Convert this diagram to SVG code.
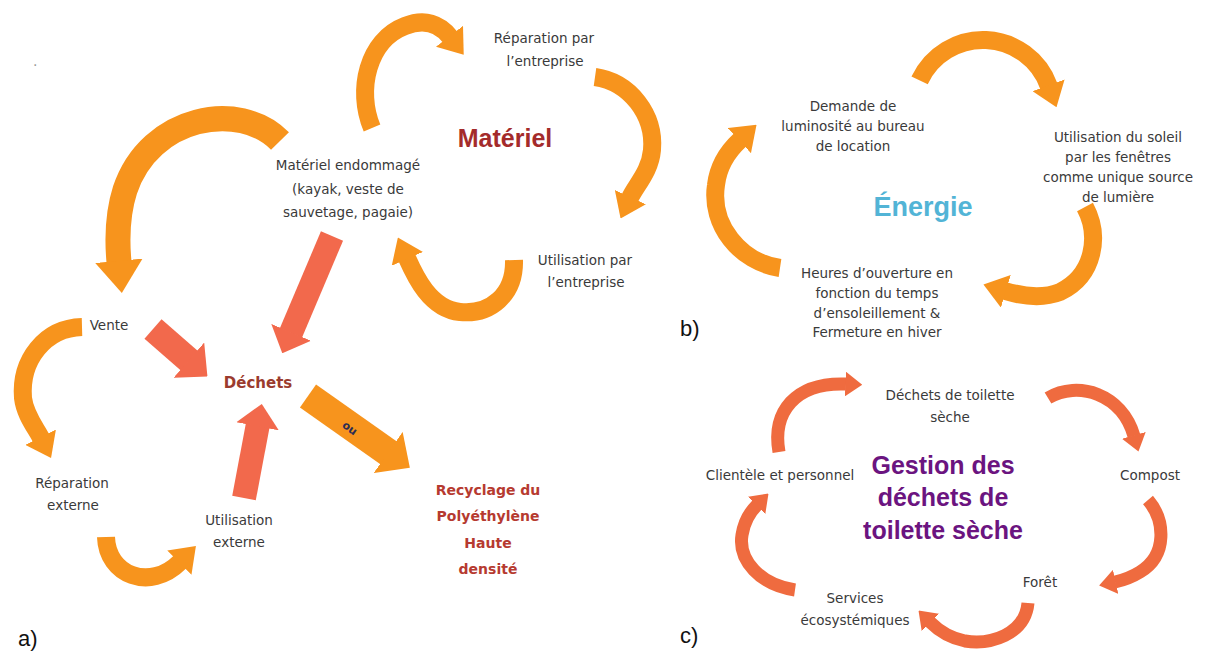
<svg xmlns="http://www.w3.org/2000/svg" width="1214" height="652" viewBox="0 0 1214 652">
<style>
.t{font-family:"DejaVu Sans","Liberation Sans",sans-serif;font-size:13.5px;fill:#3a3a3a;text-anchor:middle}
.lbl{font-family:"Liberation Sans",Arial,sans-serif;font-size:22px;fill:#111}
.ttl{font-family:"Liberation Sans",Arial,sans-serif;font-weight:bold;text-anchor:middle}
.ao{fill:none;stroke:#F7941D;stroke-width:18}
.aob{fill:none;stroke:#F7941D;stroke-width:25}
.ac{fill:none;stroke:#EF6B3F;stroke-width:13}
.sr{stroke:#F2694C}
.so{stroke:#F7941D}
</style>
<defs>
<marker id="hO" viewBox="0 0 13 19" refX="0.5" refY="9.5" markerWidth="1.3" markerHeight="1.9" orient="auto"><path d="M0,0L13,9.5L0,19z" fill="#F7941D"/></marker>
<marker id="hC" viewBox="0 0 13 19" refX="0.5" refY="9.5" markerWidth="1.3" markerHeight="1.9" orient="auto"><path d="M0,0L13,9.5L0,19z" fill="#EF6B3F"/></marker>
<marker id="sR" viewBox="0 0 9.5 18" refX="0.3" refY="9" markerWidth="0.95" markerHeight="1.8" orient="auto"><path d="M0,0L9.5,9L0,18z" fill="#F2694C"/></marker>
<marker id="sO" viewBox="0 0 9.5 18" refX="0.3" refY="9" markerWidth="0.95" markerHeight="1.8" orient="auto"><path d="M0,0L9.5,9L0,18z" fill="#F7941D"/></marker>
</defs>
<rect width="1214" height="652" fill="#ffffff"/>

<g id="connectors">
  <!-- panel a curved -->
  <path class="ao" d="M372,128 C356,90 368,40 405,26 C425,18 440,24 450,37" marker-end="url(#hO)"/>
  <path class="ao" d="M595,77 C630,82 655,115 652,150 C650,172 636,185 630,198" marker-end="url(#hO)"/>
  <path class="ao" d="M514,260 C515,295 490,315 460,312 C430,309 415,276 407,258" marker-end="url(#hO)"/>
  <path class="aob" d="M280,141 C240,100 150,115 125,190 C117,215 117,240 119,262" marker-end="url(#hO)"/>
  <path class="ao" d="M82,327 C45,328 20,360 23,398 C25,415 36,428 41,438" marker-end="url(#hO)"/>
  <path class="ao" d="M106,537 C107,575 150,592 180,562" marker-end="url(#hO)"/>
  <!-- panel a straight -->
  <line class="sr" x1="153" y1="329" x2="189.4" y2="360.7" stroke-width="26" marker-end="url(#sR)"/>
  <line class="sr" x1="332" y1="236" x2="290.9" y2="333" stroke-width="24" marker-end="url(#sR)"/>
  <line class="sr" x1="244" y1="498" x2="257.7" y2="425.6" stroke-width="24" marker-end="url(#sR)"/>
  <line class="so" x1="308" y1="396" x2="388.8" y2="453" stroke-width="28" marker-end="url(#sO)"/>
  <text x="350" y="432" transform="rotate(35 350 428)" style="font-family:'DejaVu Sans',sans-serif;font-size:11px;font-weight:bold;fill:#2c2c54;text-anchor:middle">ou</text>
  <!-- panel b -->
  <path class="ao" d="M919.6,80.4 A70,70 0 0 1 1048.8,86.1" marker-end="url(#hO)"/>
  <path class="ao" d="M1085,207 C1100,235 1095,275 1060,292 C1045,298 1025,297 1005,291" marker-end="url(#hO)"/>
  <path class="ao" d="M780,268 C740,262 710,225 716,185 C718,168 727,152 740,140" marker-end="url(#hO)"/>
  <!-- panel c -->
  <path class="ac" d="M779,452 C772,412 795,382 846,384" marker-end="url(#hC)"/>
  <path class="ac" d="M1048,398 C1078,380 1122,394 1134,436" marker-end="url(#hC)"/>
  <path class="ac" d="M1148,500 C1165,520 1168,555 1140,572 C1132,577 1124,580 1115,582" marker-end="url(#hC)"/>
  <path class="ac" d="M1028,603 C1025,635 990,645 965,641 C950,638 940,632 930,622" marker-end="url(#hC)"/>
  <path class="ac" d="M795,590 C760,585 738,560 742,535 C744,522 749,513 757,505" marker-end="url(#hC)"/>
</g>

<g id="dot"><text x="33" y="66" style="font-family:'DejaVu Sans',sans-serif;font-size:14px;fill:#999">.</text></g>

<g id="label-a"><text class="lbl" x="18" y="646">a)</text></g>
<g id="label-b"><text class="lbl" x="680" y="336">b)</text></g>
<g id="label-c"><text class="lbl" x="680" y="643">c)</text></g>

<!-- panel a nodes -->
<g id="reparation-entreprise"><text class="t" x="544" y="43">Réparation par</text><text class="t" x="545" y="66">l’entreprise</text></g>
<g id="materiel"><text class="ttl" x="505" y="147" style="font-size:25px;fill:#A42B2B">Matériel</text></g>
<g id="materiel-endommage"><text class="t" x="348" y="170">Matériel endommagé</text><text class="t" x="348" y="194">(kayak, veste de</text><text class="t" x="348" y="217">sauvetage, pagaie)</text></g>
<g id="utilisation-entreprise"><text class="t" x="585" y="265">Utilisation par</text><text class="t" x="586" y="287">l’entreprise</text></g>
<g id="vente"><text class="t" x="109" y="330">Vente</text></g>
<g id="dechets"><text x="258" y="388" style="font-family:'DejaVu Sans',sans-serif;font-size:15px;font-weight:bold;fill:#9B3B2E;text-anchor:middle">Déchets</text></g>
<g id="reparation-externe"><text class="t" x="72" y="488">Réparation</text><text class="t" x="73" y="510">externe</text></g>
<g id="utilisation-externe"><text class="t" x="239" y="525">Utilisation</text><text class="t" x="239" y="547">externe</text></g>
<g id="recyclage" style="font-family:'DejaVu Sans',sans-serif;font-size:14px;font-weight:bold;fill:#B63A30;text-anchor:middle"><text x="488" y="495">Recyclage du</text><text x="488" y="521">Polyéthylène</text><text x="488" y="548">Haute</text><text x="488" y="574">densité</text></g>

<!-- panel b nodes -->
<g id="demande"><text class="t" x="853" y="111">Demande de</text><text class="t" x="853" y="131">luminosité au bureau</text><text class="t" x="853" y="151">de location</text></g>
<g id="utilisation-soleil"><text class="t" x="1118" y="142">Utilisation du soleil</text><text class="t" x="1118" y="162">par les fenêtres</text><text class="t" x="1118" y="182">comme unique source</text><text class="t" x="1118" y="202">de lumière</text></g>
<g id="energie"><text class="ttl" x="923" y="216" style="font-size:27px;fill:#52B4D6">Énergie</text></g>
<g id="heures"><text class="t" x="877" y="278">Heures d’ouverture en</text><text class="t" x="877" y="298">fonction du temps</text><text class="t" x="877" y="318">d’ensoleillement &amp;</text><text class="t" x="877" y="337">Fermeture en hiver</text></g>

<!-- panel c nodes -->
<g id="dechets-toilette"><text class="t" x="950" y="400">Déchets de toilette</text><text class="t" x="950" y="422">sèche</text></g>
<g id="gestion"><text class="ttl" x="943" y="474" style="font-size:25px;fill:#6B1480">Gestion des</text><text class="ttl" x="943" y="506" style="font-size:25px;fill:#6B1480">déchets de</text><text class="ttl" x="943" y="539" style="font-size:25px;fill:#6B1480">toilette sèche</text></g>
<g id="clientele"><text class="t" x="780" y="480">Clientèle et personnel</text></g>
<g id="compost"><text class="t" x="1150" y="480">Compost</text></g>
<g id="foret"><text class="t" x="1040" y="587">Forêt</text></g>
<g id="services"><text class="t" x="855" y="603">Services</text><text class="t" x="855" y="625">écosystémiques</text></g>
</svg>
